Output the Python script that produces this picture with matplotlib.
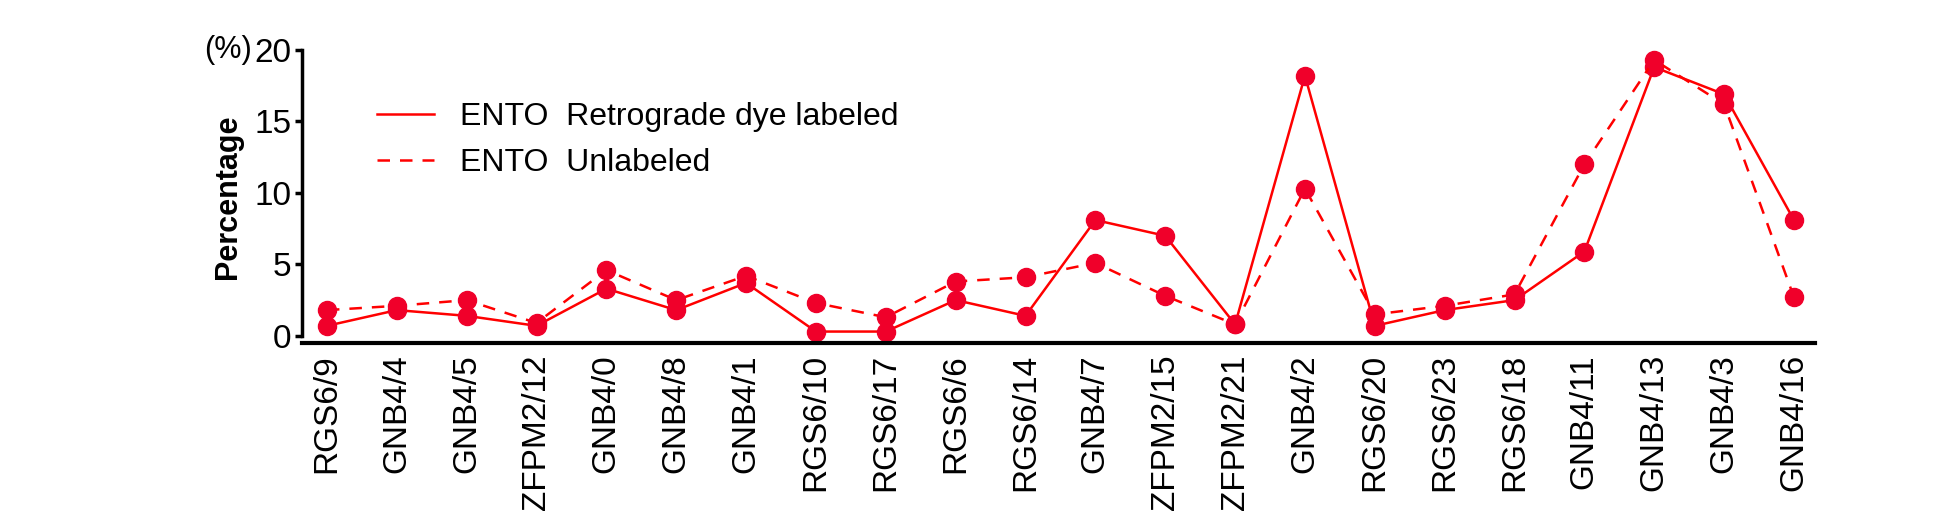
import matplotlib
matplotlib.use("Agg")
import matplotlib.pyplot as plt
import numpy as np

plt.rcParams["font.family"] = ["Liberation Sans", "DejaVu Sans"]

labels = ["RGS6/9", "GNB4/4", "GNB4/5", "ZFPM2/12", "GNB4/0", "GNB4/8", "GNB4/1",
          "RGS6/10", "RGS6/17", "RGS6/6", "RGS6/14", "GNB4/7", "ZFPM2/15", "ZFPM2/21",
          "GNB4/2", "RGS6/20", "RGS6/23", "RGS6/18", "GNB4/11", "GNB4/13", "GNB4/3", "GNB4/16"]
labeled = [0.7, 1.8, 1.4, 0.7, 3.3, 1.8, 3.7, 0.3, 0.3, 2.5, 1.4, 8.1, 7.0, 0.8,
           18.2, 0.7, 1.8, 2.5, 5.9, 18.8, 16.9, 8.1]
unlabeled = [1.8, 2.1, 2.5, 0.9, 4.6, 2.5, 4.2, 2.3, 1.3, 3.8, 4.1, 5.1, 2.8, 0.8,
             10.3, 1.5, 2.1, 2.9, 12.0, 19.3, 16.2, 2.7]

LINE = "#ff0000"
DOT = "#f0002a"

fig = plt.figure(figsize=(19.39, 5.15), dpi=100)
ax = fig.add_axes([0.156, 0.334, 0.780, 0.569])
x = np.arange(len(labels))
ax.plot(x, labeled, color=LINE, lw=1.8, ls="-", marker="o", ms=13,
        mfc=DOT, mec=DOT, label="ENTO  Retrograde dye labeled")
ax.plot(x, unlabeled, color=LINE, lw=1.8, ls=(0, (5, 4)), marker="o", ms=13,
        mfc=DOT, mec=DOT, label="ENTO  Unlabeled")

ax.set_xlim(-0.35, len(labels) - 0.7)
ax.set_ylim(-0.5, 20)
ax.set_yticks([0, 5, 10, 15, 20])
ax.set_xticks(x)
ax.set_xticklabels(labels, rotation=90, fontsize=24)
ax.tick_params(axis="y", labelsize=24, width=2.5, length=5, pad=3)
ax.tick_params(axis="x", length=0, pad=8)
for s in ["top", "right"]:
    ax.spines[s].set_visible(False)
ax.spines["left"].set_linewidth(2.5)
ax.spines["bottom"].set_linewidth(3)
ax.spines["left"].set_bounds(0, 20)
ax.set_ylabel("Percentage", fontsize=22, fontweight="bold", labelpad=8)
ax.text(-0.065, 1.0, "(%)", transform=ax.transAxes, fontsize=22, ha="left", va="center")

leg = ax.legend(loc="upper left", bbox_to_anchor=(0.03, 0.92), frameon=False,
                fontsize=23, handlelength=1.8, labelspacing=0.5)
for h in leg.legend_handles:
    h.set_marker("")

fig.savefig("out.png", facecolor="white")
